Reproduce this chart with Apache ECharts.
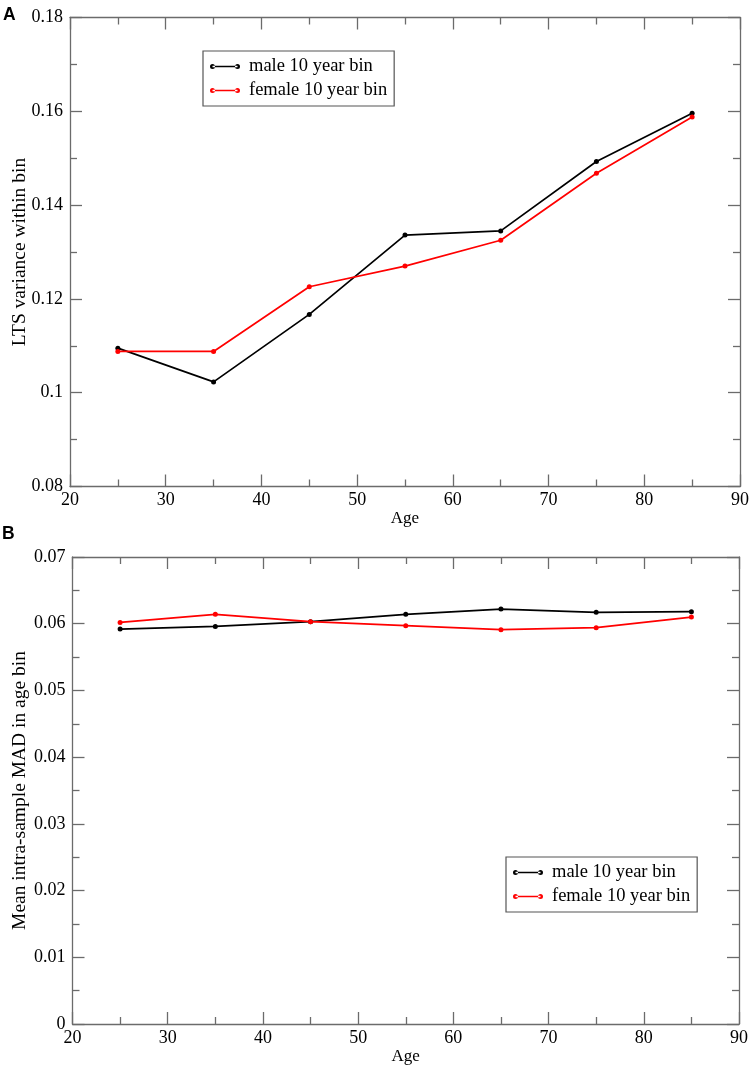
<!DOCTYPE html>
<html><head><meta charset="utf-8">
<script src="https://cdn.jsdelivr.net/npm/echarts@6/dist/echarts.min.js"></script>
<style>html,body{margin:0;padding:0;background:#fff}#c{width:751px;height:1071px}</style>
</head><body><div id="c"></div>
<script>
const ages = [25, 35, 45, 55, 65, 75, 85];
const seriesNames = ['male 10 year bin', 'female 10 year bin'];
const ltsMale   = [0.1095, 0.1023, 0.1167, 0.1336, 0.1345, 0.1493, 0.1596];
const ltsFemale = [0.1088, 0.1088, 0.1226, 0.1270, 0.1325, 0.1468, 0.1588];
const madMale   = [0.0592, 0.0596, 0.0603, 0.0614, 0.0622, 0.0617, 0.0618];
const madFemale = [0.0602, 0.0614, 0.0603, 0.0597, 0.0591, 0.0594, 0.0610];
const panelLabels = ['A', 'B'];
const yNames = ['LTS variance within bin', 'Mean intra-sample MAD in age bin'];
const xName = 'Age';

const FONT = 'Liberation Serif';
const axisCol = '#6b6b6b';
const pairs = (ys) => ages.map((a, i) => [a, ys[i]]);
const icon = 'path://M2.5,3.2 h25 v1.6 h-25 z M0,4 a2.5,2.5 0 1,0 5,0 a2.5,2.5 0 1,0 -5,0 z M25,4 a2.5,2.5 0 1,0 5,0 a2.5,2.5 0 1,0 -5,0 z';

function xAxis(gi, pos, show) {
  return {
    type: 'value', gridIndex: gi, position: pos, min: 20, max: 90, interval: 10,
    name: show ? xName : '', nameLocation: 'middle', nameGap: 24, nameMoveOverlap: false,
    nameTextStyle: { fontFamily: FONT, fontSize: 17, color: '#000' },
    axisLine: { show: true, onZero: false, lineStyle: { color: axisCol, width: 1.3 } },
    axisTick: { show: true, inside: true, length: 12, lineStyle: { color: axisCol, width: 1.3 } },
    minorTick: { show: true, splitNumber: 2, length: 7, lineStyle: { color: axisCol, width: 1.3 } },
    axisLabel: { show: show, fontFamily: FONT, fontSize: 18, color: '#000', margin: 5 },
    splitLine: { show: false }
  };
}
function yAxis(gi, pos, show, min, max, interval, name, gap) {
  return {
    type: 'value', gridIndex: gi, position: pos, min: min, max: max, interval: interval,
    name: show ? name : '', nameLocation: 'middle', nameGap: gap, nameMoveOverlap: false,
    nameTextStyle: { fontFamily: FONT, fontSize: 19.5, color: '#000' },
    axisLine: { show: true, onZero: false, lineStyle: { color: axisCol, width: 1.3 } },
    axisTick: { show: true, inside: true, length: 12, lineStyle: { color: axisCol, width: 1.3 } },
    minorTick: { show: true, splitNumber: 2, length: 7, lineStyle: { color: axisCol, width: 1.3 } },
    axisLabel: { show: show, fontFamily: FONT, fontSize: 18, color: '#000', margin: 7 },
    splitLine: { show: false }
  };
}
function line(name, data, color, xi, yi) {
  return {
    type: 'line', name: name, data: data, xAxisIndex: xi, yAxisIndex: yi,
    symbol: 'circle', symbolSize: 5, showSymbol: true,
    lineStyle: { color: color, width: 1.7 }, itemStyle: { color: color },
    animation: false, silent: true
  };
}
const legendBase = {
  orient: 'vertical', icon: icon, itemWidth: 30, itemHeight: 5, itemGap: 5,
  borderColor: '#555', borderWidth: 1.2, backgroundColor: '#fff',
  padding: [6, 7, 6, 7],
  textStyle: { fontFamily: FONT, fontSize: 18.5, color: '#000', padding: [0, 0, 0, 4] },
  data: seriesNames, selectedMode: false
};

const chart = echarts.init(document.getElementById('c'), null, { renderer: 'canvas' });
chart.setOption({
  animation: false,
  title: [
    { text: panelLabels[0], left: 3, top: 6, padding: 0, textStyle: { fontFamily: 'Liberation Sans', fontWeight: 'bold', fontSize: 17.5, color: '#000' } },
    { text: panelLabels[1], left: 2, top: 525, padding: 0, textStyle: { fontFamily: 'Liberation Sans', fontWeight: 'bold', fontSize: 17.5, color: '#000' } }
  ],
  legend: [
    Object.assign({}, legendBase, { left: 203, top: 51 }),
    Object.assign({}, legendBase, { left: 506, top: 857 })
  ],
  grid: [
    { left: 70, top: 17.5, right: 11, height: 469, outerBoundsMode: 'none', containLabel: false },
    { left: 72.5, top: 557, right: 12, height: 467, outerBoundsMode: 'none', containLabel: false }
  ],
  xAxis: [
    xAxis(0, 'bottom', true), xAxis(0, 'top', false),
    xAxis(1, 'bottom', true), xAxis(1, 'top', false)
  ],
  yAxis: [
    yAxis(0, 'left', true, 0.08, 0.18, 0.02, yNames[0], 40), yAxis(0, 'right', false, 0.08, 0.18, 0.02, '', 0),
    yAxis(1, 'left', true, 0, 0.07, 0.01, yNames[1], 43), yAxis(1, 'right', false, 0, 0.07, 0.01, '', 0)
  ],
  series: [
    line(seriesNames[0], pairs(ltsMale), '#000000', 0, 0),
    line(seriesNames[1], pairs(ltsFemale), '#ff0000', 0, 0),
    line(seriesNames[0], pairs(madMale), '#000000', 2, 2),
    line(seriesNames[1], pairs(madFemale), '#ff0000', 2, 2)
  ]
});
</script></body></html>
